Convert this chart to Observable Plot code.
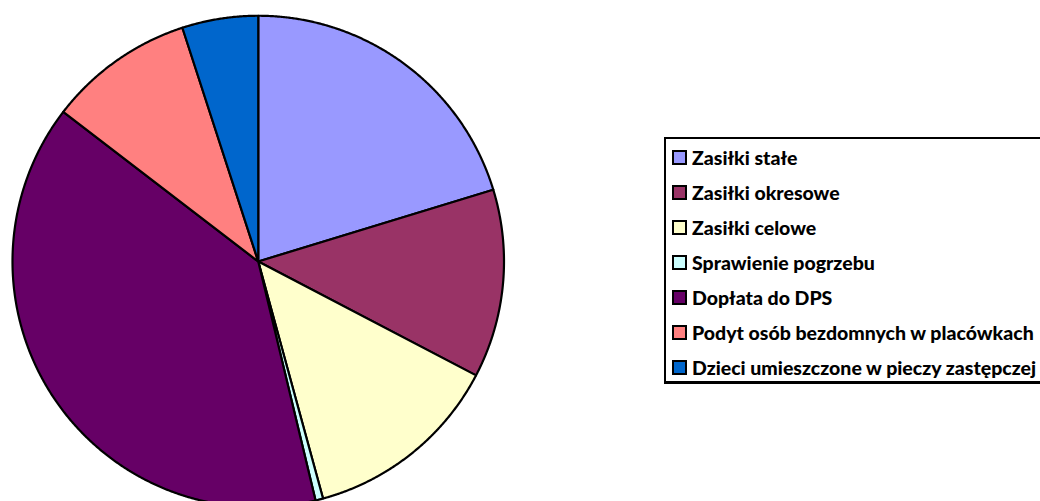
<!DOCTYPE html>
<html>
<head>
<meta charset="utf-8">
<script src="https://cdn.jsdelivr.net/npm/d3@7"></script>
<script src="https://cdn.jsdelivr.net/npm/@observablehq/plot@0.6"></script>
<style>
  html, body { margin: 0; padding: 0; background: #fff; }
  #wrap { position: relative; width: 1040px; height: 501px; overflow: hidden; }
  #legend {
    position: absolute; left: 664px; top: 137px; width: 420px; height: 247px;
    box-sizing: border-box; border: 2px solid #000; border-bottom-width: 3px; background: #fff;
    font-family: Lato, "Open Sans", sans-serif; font-weight: 900; font-size: 19.5px; color: #000;
  }
  .item { position: absolute; left: 6px; height: 20px; display: flex; align-items: center; white-space: nowrap; }
  .sw { width: 11px; height: 11px; border: 2px solid #000; margin-right: 5px; flex: none; }
</style>
</head>
<body>
<div id="wrap"><div id="chart"></div><div id="legend"></div></div>
<script>
const categories = [
  "Zasiłki stałe",
  "Zasiłki okresowe",
  "Zasiłki celowe",
  "Sprawienie pogrzebu",
  "Dopłata do DPS",
  "Podyt osób bezdomnych w placówkach",
  "Dzieci umieszczone w pieczy zastępczej"
];
const values = [20.3, 12.4, 13.1, 0.5, 39.2, 9.6, 5.0];
const colors = ["#9999FF", "#993366", "#FFFFCC", "#CCFFFF", "#660066", "#FF8080", "#0066CC"];

const W = 1040, H = 501;
const cx = 257.75, cy = 261, R = 245.75;

const data = categories.map((c, i) => ({cat: c, value: values[i]}));
const arcs = d3.pie().sort(null).value(d => d.value)(data);

// polygon outline of each slice (center + arc samples), in unit-circle coordinates
const pts = [];
for (const a of arcs) {
  pts.push({cat: a.data.cat, x: 0, y: 0});
  const n = Math.max(2, Math.ceil((a.endAngle - a.startAngle) / 0.005));
  for (let k = 0; k <= n; k++) {
    const t = a.startAngle + (a.endAngle - a.startAngle) * k / n;
    pts.push({cat: a.data.cat, x: Math.sin(t), y: Math.cos(t)});
  }
}

const chart = Plot.plot({
  width: W, height: H,
  marginLeft: 0, marginRight: 0, marginTop: 0, marginBottom: 0,
  x: {domain: [-cx / R, (W - cx) / R], range: [0, W], axis: null},
  y: {domain: [-(H - cy) / R, cy / R], range: [H, 0], axis: null},
  color: {domain: categories, range: colors, legend: false},
  marks: [
    Plot.line(pts, {x: "x", y: "y", z: "cat", fill: "cat", stroke: "#000", strokeWidth: 2.2,
      strokeLinejoin: "round", curve: "linear-closed"})
  ]
});
document.getElementById("chart").appendChild(chart);

const legend = document.getElementById("legend");
categories.forEach((c, i) => {
  const it = document.createElement("div");
  it.className = "item";
  it.style.top = (8 + i * 35.1) + "px";
  const sw = document.createElement("span");
  sw.className = "sw";
  sw.style.background = colors[i];
  const tx = document.createElement("span");
  tx.textContent = c;
  it.appendChild(sw); it.appendChild(tx);
  legend.appendChild(it);
});
</script>
</body>
</html>
